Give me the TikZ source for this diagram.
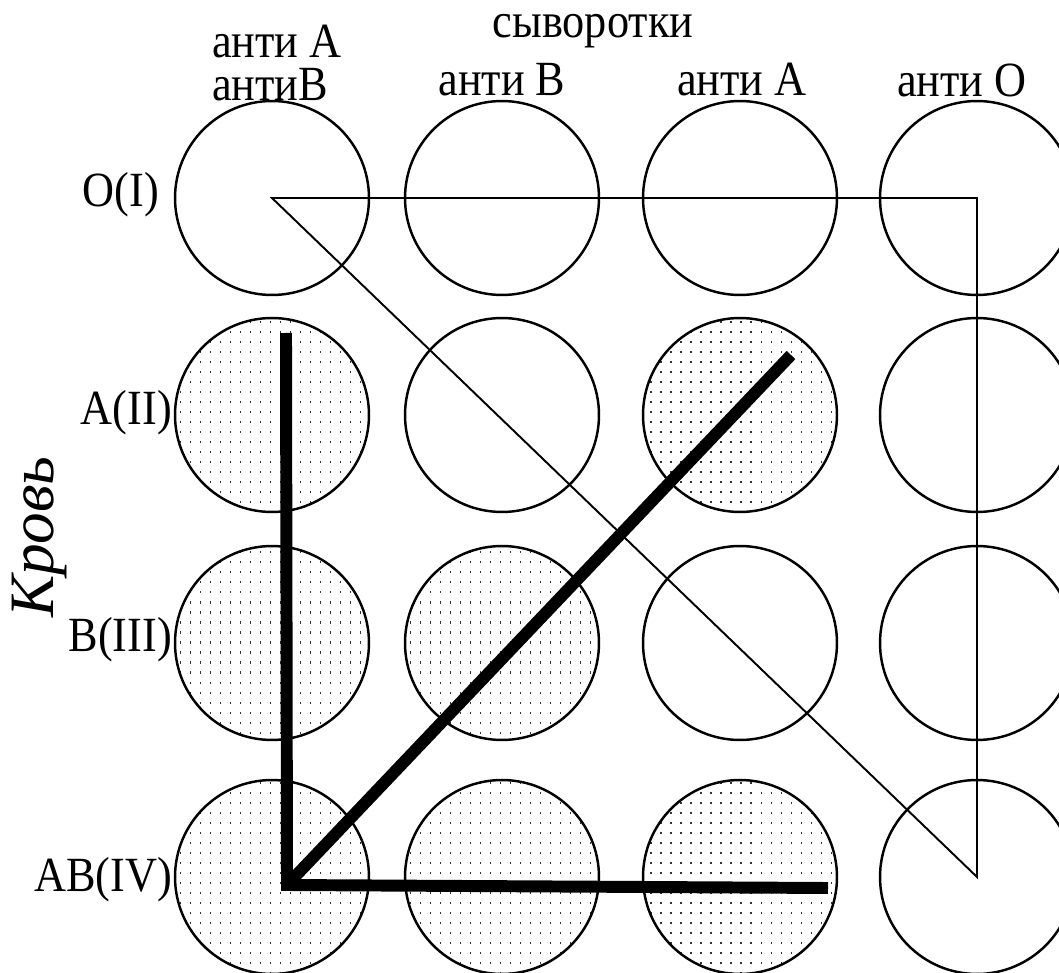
\documentclass[tikz,border=0pt]{standalone}
\usepackage{fontspec}
\setmainfont{Liberation Serif}
\newfontfamily\labelfont[FakeStretch=0.9]{Liberation Serif}
\usetikzlibrary{patterns.meta}

\tikzdeclarepattern{
  name=agglut,
  type=uncolored,
  bounding box={(-1pt,-1pt) and (1pt,1pt)},
  tile size={(5.7pt,5.7pt)},
  code={\pgfpathrectangle{\pgfpoint{-0.35pt}{-0.6pt}}{\pgfpoint{0.7pt}{1.2pt}}\pgfusepath{fill}}
}

\tikzset{
  well/.style={circle, draw, line width=1.4pt, minimum size=3.88cm, inner sep=0pt},
  clumped/.style={well, pattern=agglut, pattern color=black!80},
  clear/.style={well},
  txt/.style={font=\labelfont\fontsize{28}{30}\selectfont, inner sep=1pt},
  heavy/.style={line width=6.8pt},
  guide/.style={line width=1.1pt}
}

\begin{document}
\begin{tikzpicture}[x=0.02cm, y=-0.02cm]
    \useasboundingbox (0,0) rectangle (1059,973);
    % wells: rows = blood groups, columns = sera
    \foreach \y/\kinds [count=\r] in {198/{clear,clear,clear,clear}, 415/{clumped,clear,clumped,clear},
                                       643/{clumped,clumped,clear,clear}, 877/{clumped,clumped,clumped,clear}} {
        \foreach \k [count=\c] in \kinds {
            \pgfmathsetmacro{\x}{{272,502,740,977}[\c-1]}
            \node[\k] (w\r\c) at (\x,\y) {};
        }
    }

    % row labels
    \node[txt, anchor=east] (gO) at (161,195) {O(I)};
    \node[txt, anchor=east] (gA) at (174,413) {A(II)};
    \node[txt, anchor=east] (gB) at (174,640) {B(III)};
    \node[txt, anchor=east] (gAB) at (174,880) {AB(IV)};
    \node[font=\itshape\fontsize{36}{38}\selectfont, rotate=90] (blood) at (40,537) {Кровь};

    % column labels
    \node[txt, inner sep=0pt] (sera) at (593,31) {сыворотки};
    \node[txt, align=left, font=\labelfont\fontsize{28}{24.6}\selectfont] (sAB) at (277,63) {анти А\\антиВ};
    \node[txt] (sB) at (502,80) {анти В};
    \node[txt] (sA) at (742,80) {анти А};
    \node[txt] (sO) at (962,80) {анти О};

    % O(I): no agglutination
    \draw[guide] (w11.center) -- (w14.center) -- (w44.center) -- cycle;

    % agglutination lines
    \coordinate (aTop) at (286,333);
    \coordinate (abCorner) at (287,885);
    \coordinate (abEnd) at (828,888);
    \coordinate (aEnd) at (791,355);
    \draw[heavy] (aTop) -- (abCorner) -- (abEnd);
    \draw[heavy] (abCorner) -- (aEnd);
\end{tikzpicture}
\end{document}
